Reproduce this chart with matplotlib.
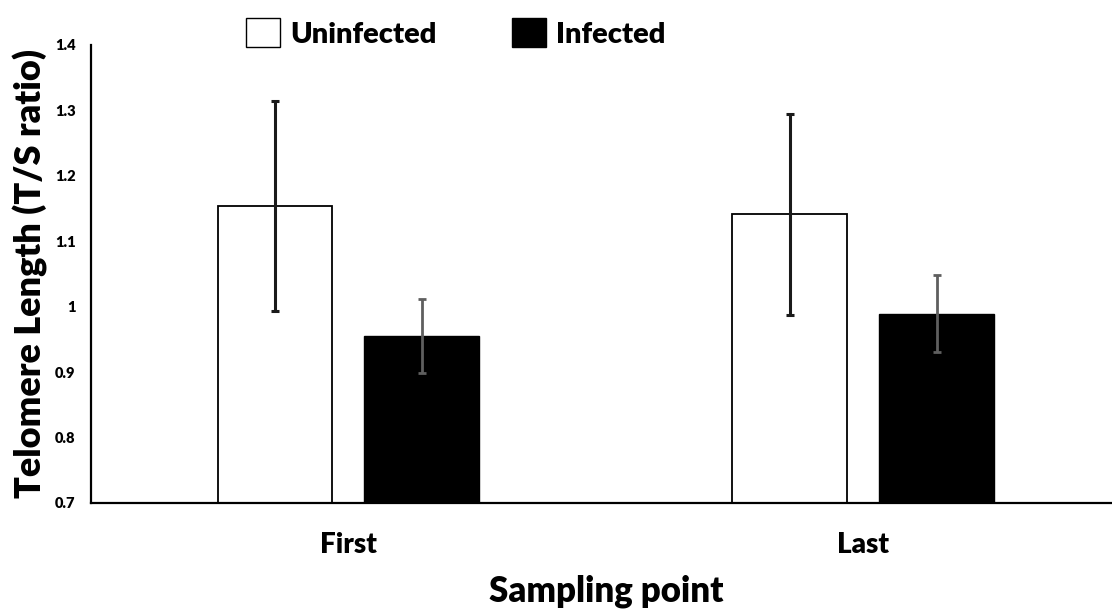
import numpy as np
import matplotlib.pyplot as plt
from matplotlib.patches import Patch

plt.rcParams['font.family'] = ['Lato', 'DejaVu Sans']
plt.rcParams['font.weight'] = 'bold'

sampling_points = ["First", "Last"]
uninfected_mean = [1.154, 1.141]
uninfected_err = [0.161, 0.153]
infected_mean = [0.955, 0.989]
infected_err = [0.057, 0.059]
y_ticks = [0.7, 0.8, 0.9, 1.0, 1.1, 1.2, 1.3, 1.4]
y_tick_labels = ["0.7", "0.8", "0.9", "1", "1.1", "1.2", "1.3", "1.4"]

fig = plt.figure(figsize=(11.12, 6.11), dpi=100)
ax = fig.add_axes([0.0818, 0.1768, 0.926, 0.7496])

x = np.arange(len(sampling_points))
bar_width = 0.223
offset = 0.1427

ax.bar(x - offset, uninfected_mean, width=bar_width,
       color="white", edgecolor="black", linewidth=1.3, label="Uninfected")
ax.errorbar(x - offset, uninfected_mean, yerr=uninfected_err, fmt="none",
            ecolor="#1a1a1a", elinewidth=2.2, capsize=3.2, capthick=2.2)
ax.bar(x + offset, infected_mean, width=bar_width,
       color="black", edgecolor="black", linewidth=1.0, label="Infected")
ax.errorbar(x + offset, infected_mean, yerr=infected_err, fmt="none",
            ecolor="#5f5f5f", elinewidth=2.0, capsize=3.2, capthick=2.0)

ax.set_xlim(-0.5, 1.5)
ax.set_ylim(0.7, 1.4)
ax.set_yticks(y_ticks)
ax.set_yticklabels(y_tick_labels, fontsize=10.5, fontweight="heavy")
ax.set_xticks(x)
ax.set_xticklabels(sampling_points, fontsize=20, fontweight="heavy")
ax.tick_params(axis="y", length=0, pad=11)
ax.tick_params(axis="x", length=0, pad=21)

ax.spines['top'].set_visible(False)
ax.spines['right'].set_visible(False)
ax.spines['left'].set_linewidth(1.6)
ax.spines['bottom'].set_linewidth(1.6)

ax.set_xlabel("Sampling point", fontsize=25, fontweight="heavy", labelpad=12)
ax.set_ylabel("Telomere Length (T/S ratio)", fontsize=26, fontweight="heavy")
ax.yaxis.set_label_coords(-0.042, 0.5)

handles = [Patch(facecolor="white", edgecolor="black", linewidth=1.0, label="Uninfected"),
           Patch(facecolor="black", edgecolor="black", label="Infected")]
fig.legend(handles=handles, loc="upper left", bbox_to_anchor=(0.198, 1.013), ncol=2,
           frameon=False, handlelength=1.15, handleheight=1.15,
           handletextpad=0.35, columnspacing=2.6,
           prop={"weight": "heavy", "size": 21})

fig.savefig("out.png", dpi=100)
